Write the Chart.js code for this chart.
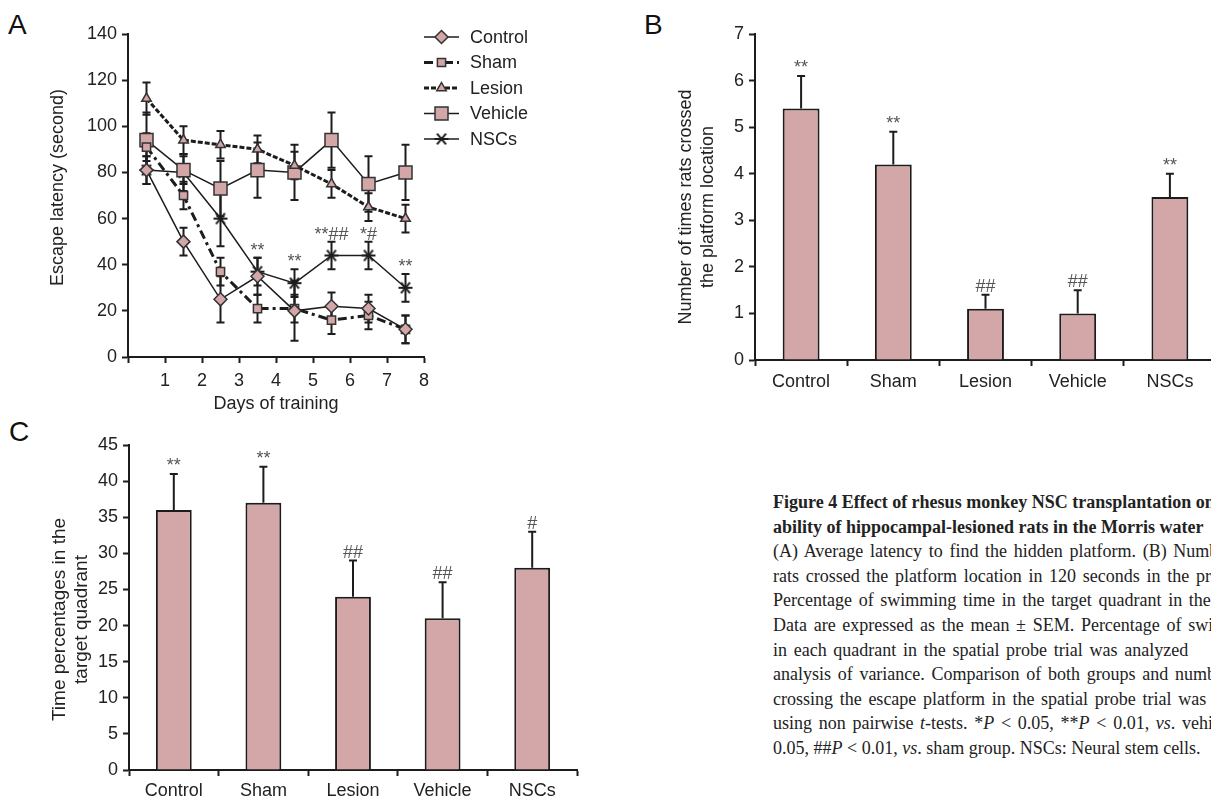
<!DOCTYPE html>
<html><head><meta charset="utf-8">
<script src="https://cdn.jsdelivr.net/npm/chart.js@4.4.0/dist/chart.umd.min.js"></script>
<style>
html,body{margin:0;padding:0;width:1211px;height:802px;overflow:hidden;background:#fff;position:relative;}
.cv{position:absolute;}
.lbl{position:absolute;font-family:"Liberation Sans",Arial,sans-serif;font-size:28px;color:#111;line-height:1;}
#cap{position:absolute;left:773px;top:490px;font-family:"Liberation Serif","Times New Roman",serif;font-size:18px;line-height:24.6px;color:#222;white-space:nowrap;word-spacing:2.2px;}
#cap b{font-weight:bold;font-size:18px;word-spacing:0;}
#cap .last{word-spacing:0;}
</style></head>
<body>
<div class="lbl" style="left:8px;top:11px">A</div>
<div class="lbl" style="left:644px;top:11px">B</div>
<div class="lbl" style="left:9px;top:418px">C</div>
<div class="cv" style="left:0;top:0"><canvas id="ca" width="560" height="420"></canvas></div>
<div class="cv" style="left:640px;top:0"><canvas id="cb" width="600" height="420"></canvas></div>
<div class="cv" style="left:0;top:420px"><canvas id="cc" width="600" height="382"></canvas></div>
<div id="cap">
<div><b>Figure 4 Effect of rhesus monkey NSC transplantation on</b></div>
<div><b>ability of hippocampal-lesioned rats in the Morris water</b></div>
<div>(A) Average latency to find the hidden platform. (B) Number</div>
<div>rats crossed the platform location in 120 seconds in the probe</div>
<div>Percentage of swimming time in the target quadrant in the</div>
<div>Data are expressed as the mean ± SEM. Percentage of swimming</div>
<div>in each quadrant in the spatial probe trial was analyzed</div>
<div>analysis of variance. Comparison of both groups and number</div>
<div>crossing the escape platform in the spatial probe trial was</div>
<div>using non pairwise <i>t</i>-tests. *<i>P</i> &lt; 0.05, **<i>P</i> &lt; 0.01, <i>vs</i>. vehicle</div>
<div class="last">0.05, ##<i>P</i> &lt; 0.01, <i>vs</i>. sham group. NSCs: Neural stem cells.</div>
</div>
<script>
// ---------- data ----------
const days = [0.5, 1.5, 2.5, 3.5, 4.5, 5.5, 6.5, 7.5];
const controlMean = [81, 50, 25, 35, 20, 22, 21, 12];
const controlSem  = [6, 6, 10, 8, 13, 6, 6, 6];
const shamMean    = [91, 70, 37, 21, 21, 16, 18, 12];
const shamSem     = [6, 6, 6, 6, 6, 6, 6, 6];
const lesionMean  = [112, 94, 92, 90, 83, 75, 65, 60];
const lesionSem   = [7, 6, 6, 6, 6, 6, 6, 6];
const vehicleMean = [94, 81, 73, 81, 80, 94, 75, 80];
const vehicleSem  = [12, 6, 12, 12, 12, 12, 12, 12];
const nscMean     = [81, 80, 60, 37, 32, 44, 44, 30];
const nscSem      = [6, 8, 12, 6, 6, 6, 6, 6];
const nscMarks    = ['', '', '', '**', '**', '**##', '*#', '**'];

const groups      = ['Control', 'Sham', 'Lesion', 'Vehicle', 'NSCs'];
const crossMean   = [5.4, 4.2, 1.1, 1.0, 3.5];
const crossSem    = [0.7, 0.7, 0.3, 0.5, 0.5];
const crossMarks  = ['**', '**', '##', '##', '**'];
const timeMean    = [36, 37, 24, 21, 28];
const timeSem     = [5, 5, 5, 5, 5];
const timeMarks   = ['**', '**', '##', '##', '#'];

// ---------- styles ----------
const F = '"Liberation Sans", Arial, sans-serif';
const INK = '#1c1c1c';
const TXT = '#222';
const MARK = '#555';
const PINK = '#d3a6a8';

function makeAsterisk() {
  const c = document.createElement('canvas');
  c.width = 16; c.height = 16;
  const g = c.getContext('2d');
  g.strokeStyle = INK; g.lineWidth = 2;
  g.translate(8, 8);
  g.beginPath();
  [0, 50, -50].forEach(a => {
    const r = a * Math.PI / 180, L = 7;
    g.moveTo(-L * Math.cos(r), -L * Math.sin(r));
    g.lineTo(L * Math.cos(r), L * Math.sin(r));
  });
  g.stroke();
  return c;
}
const starImg = makeAsterisk();

const seriesA = [
  {label: 'Control', mean: controlMean, sem: controlSem, style: 'rectRot', r: 6.5, dash: [], width: 1.5},
  {label: 'Sham', mean: shamMean, sem: shamSem, style: 'rect', r: 5.8, dash: [9, 4, 3, 4], width: 3},
  {label: 'Lesion', mean: lesionMean, sem: lesionSem, style: 'triangle', r: 5.5, dash: [5, 2], width: 3},
  {label: 'Vehicle', mean: vehicleMean, sem: vehicleSem, style: 'rect', r: 9.2, dash: [], width: 1.5},
  {label: 'NSCs', mean: nscMean, sem: nscSem, style: starImg, r: 7, dash: [], width: 1.5}
];

function drawMarker(ctx, style, x, y, r) {
  ctx.save();
  if (style instanceof HTMLCanvasElement) {
    ctx.drawImage(style, x - style.width / 2, y - style.height / 2);
    ctx.restore(); return;
  }
  ctx.fillStyle = PINK; ctx.strokeStyle = '#333'; ctx.lineWidth = 1.5; ctx.setLineDash([]);
  ctx.beginPath();
  if (style === 'rectRot') { ctx.moveTo(x, y - r); ctx.lineTo(x + r, y); ctx.lineTo(x, y + r); ctx.lineTo(x - r, y); ctx.closePath(); }
  else if (style === 'rect') { const s = r * Math.SQRT1_2; ctx.rect(x - s, y - s, 2 * s, 2 * s); }
  else if (style === 'triangle') { ctx.moveTo(x, y - r); ctx.lineTo(x + r * 0.866, y + r / 2); ctx.lineTo(x - r * 0.866, y + r / 2); ctx.closePath(); }
  ctx.fill(); ctx.stroke(); ctx.restore();
}

// vertical axis title drawn at a chosen centre (x of first line, offset of centre from the plot-area middle)
function yTitlePlugin(lines, x0, lineGap, shift, size) {
  return {
    id: 'ytitle',
    afterDraw(chart) {
      const ctx = chart.ctx, a = chart.chartArea;
      const cy = (a.top + a.bottom) / 2 + shift;
      ctx.save();
      ctx.fillStyle = TXT; ctx.font = size + 'px ' + F; ctx.textAlign = 'center'; ctx.textBaseline = 'middle';
      lines.forEach((t, i) => {
        ctx.save(); ctx.translate(x0 + i * lineGap, cy); ctx.rotate(-Math.PI / 2);
        ctx.fillText(t, 0, 0); ctx.restore();
      });
      ctx.restore();
    }
  };
}

function yAxis(min, max, step, width) {
  return {
    min, max,
    ticks: {stepSize: step, color: TXT, font: {family: F, size: 18}, padding: 5},
    grid: {drawOnChartArea: false, drawTicks: true, tickLength: 6, tickWidth: 2, tickColor: INK},
    border: {display: true, color: INK, width: 2},
    afterFit(s) { s.width = width; }
  };
}

Chart.defaults.animation = false;

// ---------- Panel A ----------
const errA = {
  id: 'errA',
  beforeDatasetsDraw(chart) {
    const ctx = chart.ctx, ys = chart.scales.y;
    ctx.save(); ctx.strokeStyle = INK; ctx.lineWidth = 2; ctx.setLineDash([]);
    chart.data.datasets.forEach((ds, i) => {
      const meta = chart.getDatasetMeta(i);
      meta.data.forEach((pt, j) => {
        const v = ds.data[j].y, e = seriesA[i].sem[j];
        const x = pt.x, y1 = ys.getPixelForValue(v + e), y2 = ys.getPixelForValue(v - e);
        ctx.beginPath();
        ctx.moveTo(x, y1); ctx.lineTo(x, y2);
        ctx.moveTo(x - 4, y1); ctx.lineTo(x + 4, y1);
        ctx.moveTo(x - 4, y2); ctx.lineTo(x + 4, y2);
        ctx.stroke();
      });
    });
    ctx.restore();
  },
  afterDatasetsDraw(chart) {
    const ctx = chart.ctx, ys = chart.scales.y, meta = chart.getDatasetMeta(4);
    ctx.save(); ctx.fillStyle = MARK; ctx.font = '18px ' + F; ctx.textAlign = 'center'; ctx.textBaseline = 'alphabetic';
    nscMarks.forEach((m, j) => {
      if (!m) return;
      ctx.fillText(m, meta.data[j].x, ys.getPixelForValue(nscMean[j] + nscSem[j]) - 2);
    });
    ctx.restore();
  },
  afterDraw(chart) {
    const ctx = chart.ctx;
    seriesA.forEach((s, i) => {
      const y = 37 + i * 25.5;
      ctx.save();
      ctx.strokeStyle = INK; ctx.lineWidth = s.width; ctx.setLineDash(s.dash);
      ctx.beginPath(); ctx.moveTo(424, y); ctx.lineTo(459, y); ctx.stroke();
      ctx.restore();
      drawMarker(ctx, s.style, 441.5, y, s.r);
      ctx.save(); ctx.fillStyle = TXT; ctx.font = '18px ' + F; ctx.textBaseline = 'middle'; ctx.textAlign = 'left';
      ctx.fillText(s.label, 470, y + 1);
      ctx.restore();
    });
  }
};

new Chart(document.getElementById('ca'), {
  type: 'line',
  data: {
    datasets: seriesA.map(s => ({
      label: s.label,
      data: days.map((d, j) => ({x: d, y: s.mean[j]})),
      borderColor: INK, borderWidth: s.width, borderDash: s.dash,
      pointStyle: s.style, pointRadius: s.r, pointHoverRadius: s.r,
      pointBackgroundColor: PINK, pointBorderColor: '#333', pointBorderWidth: 1.5,
      fill: false, tension: 0, clip: false
    }))
  },
  options: {
    responsive: false, devicePixelRatio: 1,
    layout: {padding: {top: 34, right: 136, bottom: 0, left: 0}},
    plugins: {legend: {display: false}, tooltip: {enabled: false}},
    scales: {
      x: {
        type: 'linear', min: 0, max: 8,
        ticks: {stepSize: 1, autoSkip: false, color: TXT, font: {family: F, size: 18}, padding: 7,
                callback: v => v === 0 ? '' : v},
        grid: {drawOnChartArea: false, drawTicks: true, tickLength: 6, tickWidth: 2, tickColor: INK},
        border: {display: true, color: INK, width: 2},
        title: {display: true, text: 'Days of training', color: TXT, font: {family: F, size: 18, lineHeight: 1.2}, padding: {top: 0, bottom: 5}},
        afterFit(s) { s.height = 63; }
      },
      y: yAxis(0, 140, 20, 128)
    }
  },
  plugins: [errA, yTitlePlugin(['Escape latency (second)'], 58, 0, -8, 18)]
});

// ---------- Bar panels ----------
function barPlugin(id, sems, marks) {
  return {
    id,
    afterDatasetsDraw(chart) {
      const ctx = chart.ctx, ys = chart.scales.y, meta = chart.getDatasetMeta(0);
      const vals = chart.data.datasets[0].data;
      ctx.save();
      meta.data.forEach((bar, j) => {
        const top = ys.getPixelForValue(vals[j]);
        const et = ys.getPixelForValue(vals[j] + sems[j]);
        ctx.strokeStyle = INK; ctx.lineWidth = 2;
        ctx.beginPath(); ctx.moveTo(bar.x, top); ctx.lineTo(bar.x, et);
        ctx.moveTo(bar.x - 4, et); ctx.lineTo(bar.x + 4, et); ctx.stroke();
        ctx.fillStyle = MARK; ctx.font = '18px ' + F; ctx.textAlign = 'center'; ctx.textBaseline = 'alphabetic';
        ctx.fillText(marks[j], bar.x, et - 3);
      });
      ctx.restore();
    }
  };
}

function barChart(id, values, sems, marks, yMin, yMax, step, yWidth, titlePlug, pad, xHeight, xPad) {
  new Chart(document.getElementById(id), {
    type: 'bar',
    data: {labels: groups, datasets: [{data: values, backgroundColor: PINK, borderColor: INK, borderWidth: 2,
      categoryPercentage: 1, barPercentage: 0.4}]},
    options: {
      responsive: false, devicePixelRatio: 1,
      layout: {padding: pad},
      plugins: {legend: {display: false}, tooltip: {enabled: false}},
      scales: {
        x: {
          ticks: {color: TXT, font: {family: F, size: 18}, padding: xPad},
          grid: {drawOnChartArea: false, drawTicks: true, tickLength: 6, tickWidth: 2, tickColor: INK, offset: true},
          border: {display: true, color: INK, width: 2},
          afterFit(s) { s.height = xHeight; }
        },
        y: yAxis(yMin, yMax, step, yWidth)
      }
    },
    plugins: [barPlugin(id + 'p', sems, marks), titlePlug]
  });
}

barChart('cb', crossMean, crossSem, crossMarks, 0, 7, 1, 115,
  yTitlePlugin(['Number of times rats crossed', 'the platform location'], 46, 22, 10, 18),
  {top: 34, right: 24, bottom: 0, left: 0}, 60, 5);

barChart('cc', timeMean, timeSem, timeMarks, 0, 45, 5, 129,
  yTitlePlugin(['Time percentages in the', 'target quadrant'], 60, 22, 12, 19),
  {top: 25, right: 23, bottom: 0, left: 0}, 32, 4);
</script>
</body></html>
